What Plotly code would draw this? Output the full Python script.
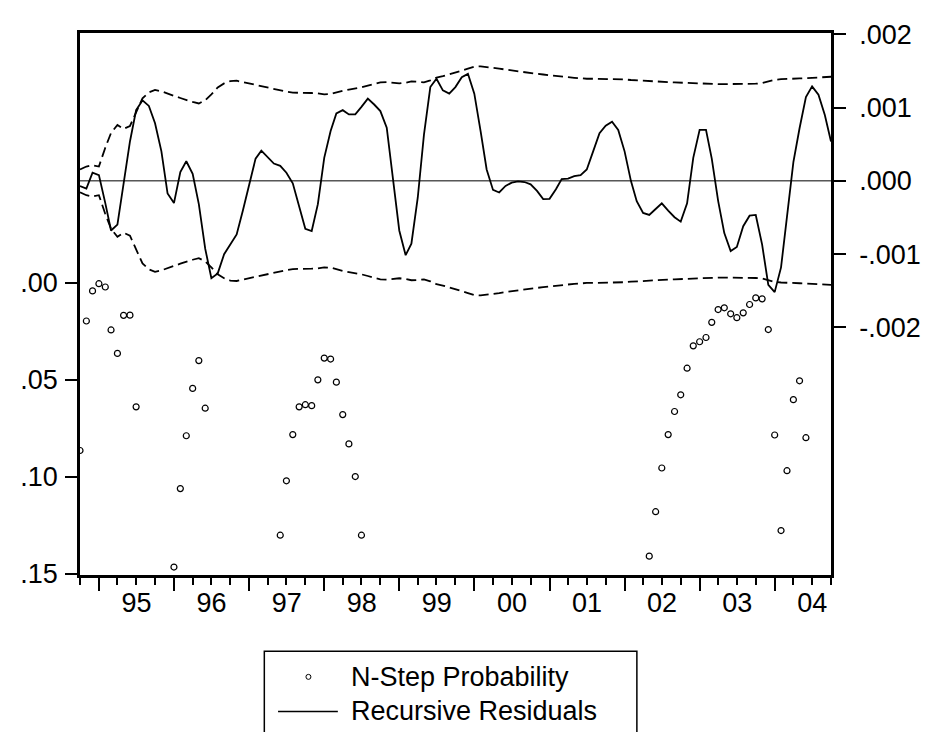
import plotly.graph_objects as go
import pandas as pd

# ---------------- data ----------------
# monthly observations 1994M10 .. 2004M10
months = pd.date_range("1994-10-01", "2004-10-01", freq="MS")

# recursive residuals (units of 1e-3)
resid_e3 = [
    -0.070, -0.105, 0.111, 0.078, -0.304, -0.678, -0.597, -0.047, 0.538, 0.966,
    1.101, 1.024, 0.786, 0.403, -0.173, -0.304, 0.119, 0.268, 0.097, -0.318,
    -0.926, -1.331, -1.264, -1.003, -0.868, -0.732, -0.408, -0.047, 0.304, 0.412,
    0.322, 0.236, 0.205, 0.111, -0.034, -0.341, -0.655, -0.686, -0.318, 0.314,
    0.682, 0.922, 0.966, 0.908, 0.908, 1.011, 1.124, 1.043, 0.953, 0.727,
    0.043, -0.678, -1.016, -0.858, -0.227, 0.628, 1.281, 1.395, 1.236, 1.192,
    1.281, 1.416, 1.462, 1.192, 0.673, 0.155, -0.124, -0.159, -0.070, -0.024,
    -0.007, -0.016, -0.047, -0.138, -0.250, -0.246, -0.115, 0.024, 0.030, 0.065,
    0.078, 0.155, 0.403, 0.651, 0.754, 0.808, 0.696, 0.403, -0.003, -0.277,
    -0.439, -0.466, -0.385, -0.308, -0.408, -0.497, -0.557, -0.308, 0.314, 0.696,
    0.696, 0.304, -0.273, -0.714, -0.959, -0.903, -0.619, -0.476, -0.466, -0.872,
    -1.422, -1.520, -1.182, -0.453, 0.257, 0.719, 1.146, 1.291, 1.178, 0.899,
    0.538,
]

# +/- 2 S.E. band (units of 1e-3)
band_e3 = [
    0.155, 0.196, 0.214, 0.196, 0.453, 0.655, 0.764, 0.709, 0.750, 0.943,
    1.128, 1.209, 1.243, 1.223, 1.189, 1.162, 1.132, 1.101, 1.078, 1.057,
    1.101, 1.182, 1.277, 1.331, 1.362, 1.368, 1.349, 1.331, 1.308, 1.291,
    1.273, 1.254, 1.232, 1.219, 1.205, 1.200, 1.200, 1.200, 1.196, 1.182,
    1.186, 1.209, 1.230, 1.246, 1.259, 1.277, 1.300, 1.322, 1.345, 1.349,
    1.341, 1.331, 1.341, 1.358, 1.354, 1.345, 1.372, 1.412, 1.430, 1.453,
    1.480, 1.507, 1.534, 1.561, 1.565, 1.557, 1.547, 1.534, 1.520, 1.507,
    1.493, 1.480, 1.470, 1.462, 1.453, 1.446, 1.435, 1.426, 1.416, 1.408,
    1.399, 1.395, 1.395, 1.395, 1.395, 1.395, 1.392, 1.385, 1.378, 1.372,
    1.368, 1.362, 1.358, 1.354, 1.349, 1.345, 1.341, 1.335, 1.331, 1.327,
    1.326, 1.323, 1.322, 1.322, 1.322, 1.323, 1.324, 1.327, 1.327, 1.335,
    1.358, 1.381, 1.389, 1.395, 1.395, 1.399, 1.403, 1.408, 1.416, 1.422,
    1.422,
]

# N-step forecast test probabilities (only those below .15 are shown)
prob_months = [
    "1994-10", "1994-11", "1994-12", "1995-01", "1995-02", "1995-03", "1995-04",
    "1995-05", "1995-06", "1995-07",
    "1996-01", "1996-02", "1996-03", "1996-04", "1996-05", "1996-06",
    "1997-06", "1997-07", "1997-08", "1997-09", "1997-10", "1997-11", "1997-12",
    "1998-01", "1998-02", "1998-03", "1998-04", "1998-05", "1998-06", "1998-07",
    "2002-05", "2002-06", "2002-07", "2002-08", "2002-09", "2002-10", "2002-11",
    "2002-12", "2003-01", "2003-02", "2003-03", "2003-04", "2003-05", "2003-06",
    "2003-07", "2003-08", "2003-09", "2003-10", "2003-11", "2003-12", "2004-01",
    "2004-02", "2004-03", "2004-04", "2004-05", "2004-06",
]
prob_values = [
    0.0864, 0.0197, 0.0042, 0.0005, 0.0022, 0.0243, 0.0364, 0.0168, 0.0167, 0.0639,
    0.1464, 0.1060, 0.0788, 0.0544, 0.0401, 0.0646,
    0.1300, 0.1020, 0.0782, 0.0639, 0.0628, 0.0633, 0.0500,
    0.0388, 0.0393, 0.0512, 0.0679, 0.0830, 0.0998, 0.1300,
    0.1408, 0.1179, 0.0954, 0.0782, 0.0663, 0.0577, 0.0440,
    0.0325, 0.0304, 0.0282, 0.0204, 0.0138, 0.0129, 0.0160,
    0.0180, 0.0155, 0.0112, 0.0078, 0.0083, 0.0241, 0.0784,
    0.1276, 0.0968, 0.0602, 0.0505, 0.0798,
]

prob_tickvals = [0.00, 0.05, 0.10, 0.15]
prob_ticktext = [".00", ".05", ".10", ".15"]
resid_tickvals = [-0.002, -0.001, 0.0, 0.001, 0.002]
resid_ticktext = ["-.002", "-.001", ".000", ".001", ".002"]

legend_labels = ["N-Step Probability", "Recursive Residuals"]

SCALE = 1e-3
resid = [v * SCALE for v in resid_e3]
upper = [v * SCALE for v in band_e3]
lower = [-v * SCALE for v in band_e3]
prob_x = [pd.Timestamp(m + "-01") for m in prob_months]

# ---------------- figure ----------------
FONT = "Liberation Sans, Arial, sans-serif"
FS = 27
OFF = 8                      # page body margin
W, H = 933 - OFF, 732 - OFF
ML, MR, MT, MB = 72 - OFF, 95, 27 - OFF, 157
PW, PH = W - ML - MR, H - MT - MB


def px(xs):  # screen x -> paper
    return (xs - OFF - ML) / PW


def py(ys):  # screen y -> paper
    return (H - MB - (ys - OFF)) / PH


fig = go.Figure()

fig.add_trace(go.Scatter(
    x=prob_x, y=prob_values, mode="markers", yaxis="y",
    marker=dict(symbol="circle-open", size=6, color="black", line=dict(width=1.2, color="black")),
    showlegend=False, name=legend_labels[0],
))
fig.add_trace(go.Scatter(
    x=months, y=upper, mode="lines", yaxis="y2",
    line=dict(color="black", width=1.8, dash="10px,5px"), showlegend=False,
))
fig.add_trace(go.Scatter(
    x=months, y=lower, mode="lines", yaxis="y2",
    line=dict(color="black", width=1.8, dash="10px,5px"), showlegend=False,
))
fig.add_trace(go.Scatter(
    x=months, y=resid, mode="lines", yaxis="y2",
    line=dict(color="black", width=1.8), showlegend=False, name=legend_labels[1],
))

# zero reference line
fig.add_shape(type="line", xref="paper", yref="y2", x0=0, x1=1, y0=0, y1=0,
              line=dict(color="black", width=1), layer="below")

# manual legend (box partly cut by the bottom of the page, like the reference)
fig.add_shape(type="rect", xref="paper", yref="paper",
              x0=px(260), x1=px(640), y0=py(652), y1=py(770),
              line=dict(color="black", width=1.5), fillcolor="rgba(0,0,0,0)")
fig.add_shape(type="circle", xref="paper", yref="paper",
              xsizemode="pixel", ysizemode="pixel",
              xanchor=px(305), yanchor=py(678), x0=-2.5, x1=2.5, y0=-2.5, y1=2.5,
              line=dict(color="black", width=1))
fig.add_shape(type="line", xref="paper", yref="paper",
              x0=px(274), x1=px(335), y0=py(713), y1=py(713),
              line=dict(color="black", width=1.5))
fig.add_annotation(x=px(346), y=py(678), xref="paper", yref="paper",
                   text=legend_labels[0], showarrow=False, xanchor="left", yanchor="middle",
                   font=dict(family=FONT, size=FS, color="black"))
fig.add_annotation(x=px(346), y=py(713), xref="paper", yref="paper",
                   text=legend_labels[1], showarrow=False, xanchor="left", yanchor="middle",
                   font=dict(family=FONT, size=FS, color="black"))

fig.update_layout(
    width=W, height=H,
    margin=dict(l=ML, r=MR, t=MT, b=MB, pad=0),
    paper_bgcolor="white", plot_bgcolor="white",
    font=dict(family=FONT, size=FS, color="black"),
    showlegend=False,
    xaxis=dict(
        type="date",
        range=["1994-10-01", "2004-10-01"],
        showgrid=False, zeroline=False,
        showline=True, linecolor="black", linewidth=2.5, mirror=True,
        ticks="outside", ticklen=13, tickwidth=1.5, tickcolor="black",
        dtick="M12", tick0="1995-01-01", tickformat="%y",
        ticklabelmode="period", ticklabelstandoff=-11,
        minor=dict(ticks="outside", ticklen=7, tickwidth=1.5, tickcolor="black",
                   dtick="M3", tick0="1995-01-01", showgrid=False),
        tickfont=dict(family=FONT, size=FS, color="black"),
    ),
    yaxis=dict(
        range=[0.1505, -0.1286],
        showgrid=False, zeroline=False,
        showline=True, linecolor="black", linewidth=2.5,
        ticks="outside", ticklen=12, tickwidth=1.5, tickcolor="black",
        tickvals=prob_tickvals, ticktext=prob_ticktext, ticklabelstandoff=2,
        tickfont=dict(family=FONT, size=FS, color="black"),
    ),
    yaxis2=dict(
        overlaying="y", side="right",
        range=[-0.005385, 0.00202],
        showgrid=False, zeroline=False,
        showline=True, linecolor="black", linewidth=2.5,
        ticks="outside", ticklen=12, tickwidth=1.5, tickcolor="black",
        tickvals=resid_tickvals, ticktext=resid_ticktext, ticklabelstandoff=8,
        tickfont=dict(family=FONT, size=FS, color="black"),
    ),
)

fig.write_html("out.html")
